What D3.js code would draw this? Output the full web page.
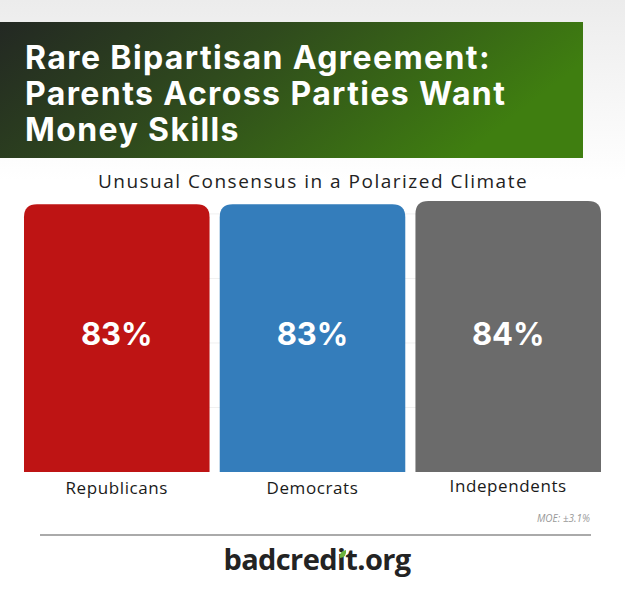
<!DOCTYPE html>
<html>
<head>
<meta charset="utf-8">
<script src="https://cdn.jsdelivr.net/npm/d3@7"></script>
<style>
  body { margin: 0; background: #fff; }
  svg { display: block; }
</style>
</head>
<body>
<svg id="chart" width="625" height="600"></svg>
<script>
// data
var categories = ["Republicans", "Democrats", "Independents"];
var values = [83, 83, 84];
var colors = ["#be1414", "#347dbb", "#6b6b6b"];
var titleLines = ["Rare Bipartisan Agreement:", "Parents Across Parties Want", "Money Skills"];
var gridValues = [20, 40, 60, 80];

var svg = d3.select("#chart");
var defs = svg.append("defs");

var bg = defs.append("linearGradient").attr("id", "bg")
    .attr("x1", 0).attr("y1", 0).attr("x2", 0).attr("y2", 1);
bg.append("stop").attr("offset", "0%").attr("stop-color", "#ececec");
bg.append("stop").attr("offset", "30%").attr("stop-color", "#ffffff");

var banner = defs.append("linearGradient").attr("id", "banner")
    .attr("x1", 0).attr("y1", 0).attr("x2", 1).attr("y2", 0.3);
banner.append("stop").attr("offset", "0%").attr("stop-color", "#232823");
banner.append("stop").attr("offset", "45%").attr("stop-color", "#2f4a1d");
banner.append("stop").attr("offset", "100%").attr("stop-color", "#3f7e10");

svg.append("rect").attr("width", 625).attr("height", 600).attr("fill", "url(#bg)");

// title banner
svg.append("rect")
    .attr("x", 0).attr("y", 22).attr("width", 583).attr("height", 136)
    .attr("fill", "url(#banner)");

svg.append("g").selectAll("text")
  .data(titleLines)
  .enter().append("text")
    .attr("x", 25)
    .attr("y", function(d, i) { return 69 + i * 36; })
    .attr("fill", "#fff")
    .style("font-family", "Inter, 'Open Sans', sans-serif")
    .style("font-weight", 700)
    .style("font-size", "32px")
    .style("letter-spacing", "1.4px")
    .text(function(d) { return d; });

svg.append("text")
    .attr("x", 313).attr("y", 188)
    .attr("text-anchor", "middle")
    .attr("fill", "#222")
    .style("font-family", "'Open Sans', sans-serif")
    .style("font-size", "19px")
    .style("letter-spacing", "1.5px")
    .text("Unusual Consensus in a Polarized Climate");

// scales
var x = d3.scaleBand()
    .domain(categories)
    .range([24, 601])
    .paddingInner(0.052);

var y = d3.scaleLinear()
    .domain([0, 100])
    .range([472, 149.4]);

// faint grid
svg.append("g").selectAll("line")
  .data(gridValues)
  .enter().append("line")
    .attr("x1", 24).attr("x2", 601)
    .attr("y1", function(d) { return y(d); })
    .attr("y2", function(d) { return y(d); })
    .attr("stroke", "#f0f0f0")
    .attr("stroke-width", 1);

function topRounded(x0, y0, w, h, r) {
  return "M" + x0 + "," + (y0 + h) +
    "V" + (y0 + r) +
    "Q" + x0 + "," + y0 + " " + (x0 + r) + "," + y0 +
    "H" + (x0 + w - r) +
    "Q" + (x0 + w) + "," + y0 + " " + (x0 + w) + "," + (y0 + r) +
    "V" + (y0 + h) + "Z";
}

var bars = categories.map(function(c, i) { return { name: c, value: values[i], color: colors[i] }; });

svg.append("g").selectAll("path")
  .data(bars)
  .enter().append("path")
    .attr("d", function(d) {
      return topRounded(x(d.name), y(d.value), x.bandwidth(), y(0) - y(d.value), 13);
    })
    .attr("fill", function(d) { return d.color; });

svg.append("g").selectAll("text")
  .data(bars)
  .enter().append("text")
    .attr("x", function(d) { return x(d.name) + x.bandwidth() / 2; })
    .attr("y", 345)
    .attr("text-anchor", "middle")
    .attr("fill", "#fff")
    .style("font-family", "Inter, 'Open Sans', sans-serif")
    .style("font-weight", 700)
    .style("font-size", "31px")
    .text(function(d) { return d.value + "%"; });

svg.append("g").selectAll("text")
  .data(bars)
  .enter().append("text")
    .attr("x", function(d) { return x(d.name) + x.bandwidth() / 2; })
    .attr("y", function(d, i) { return i === 2 ? 492 : 494; })
    .attr("text-anchor", "middle")
    .attr("fill", "#1a1a1a")
    .style("font-family", "'Open Sans', sans-serif")
    .style("font-size", "17px")
    .style("letter-spacing", "0.6px")
    .text(function(d) { return d.name; });

svg.append("text")
    .attr("x", 590).attr("y", 522)
    .attr("text-anchor", "end")
    .attr("fill", "#999")
    .style("font-family", "'Open Sans', sans-serif")
    .style("font-style", "italic")
    .style("font-size", "10px")
    .text("MOE: \u00b13.1%");

svg.append("line")
    .attr("x1", 40).attr("x2", 591)
    .attr("y1", 535).attr("y2", 535)
    .attr("stroke", "#aaa")
    .attr("stroke-width", 2);

// logo
svg.append("text")
    .attr("x", 317).attr("y", 570)
    .attr("text-anchor", "middle")
    .attr("fill", "#232323")
    .style("font-family", "'Open Sans', sans-serif")
    .style("font-weight", 700)
    .style("font-size", "29px")
    .style("letter-spacing", "-0.6px")
    .text("badcredit.org");

svg.append("path")
    .attr("d", "M340,558 q-1,-7 6,-8 q1,7 -6,8 Z")
    .attr("fill", "#6cb33f");
</script>
</body>
</html>
